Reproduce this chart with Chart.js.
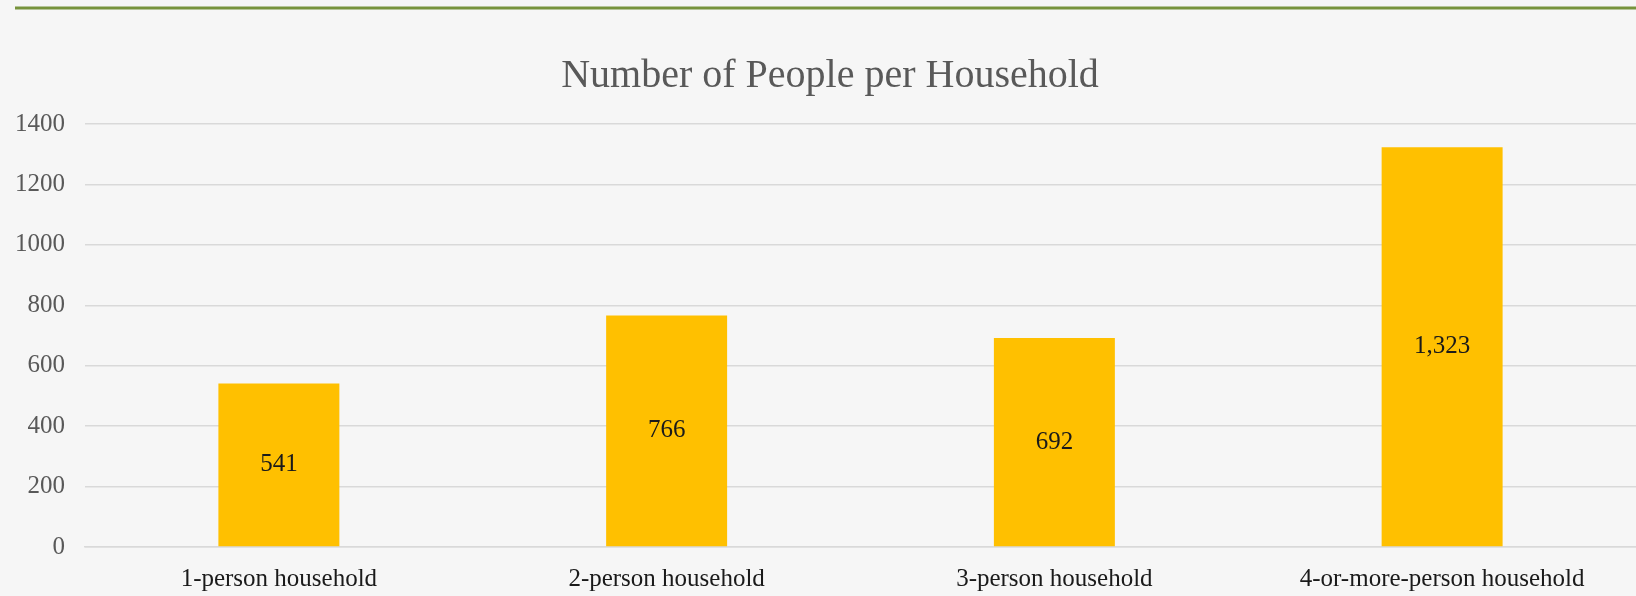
<!DOCTYPE html>
<html>
<head>
<meta charset="utf-8">
<script src="https://cdn.jsdelivr.net/npm/chart.js@4"></script>
<style>
  html, body { margin: 0; padding: 0; background: #f6f6f6; }
  #wrap { width: 1636px; height: 596px; position: relative; }
</style>
</head>
<body>
<div id="wrap"><canvas id="c" width="1636" height="596"></canvas></div>
<script>
const chartTitle = "Number of People per Household";
const categories = ["1-person household", "2-person household", "3-person household", "4-or-more-person household"];
const householdCounts = [541, 766, 692, 1323];
const yTicks = [0, 200, 400, 600, 800, 1000, 1200, 1400];

const SERIF = "'Liberation Serif', 'DejaVu Serif', serif";

const decorPlugin = {
  id: 'decor',
  beforeDraw(chart) {
    const ctx = chart.ctx;
    ctx.save();
    ctx.fillStyle = '#f6f6f6';
    ctx.fillRect(0, 0, chart.width, chart.height);
    ctx.strokeStyle = '#77933c';
    ctx.lineWidth = 3;
    ctx.beginPath();
    ctx.moveTo(15, 8);
    ctx.lineTo(chart.width, 8);
    ctx.stroke();
    ctx.fillStyle = '#595959';
    ctx.font = "40px " + SERIF;
    ctx.textAlign = 'center';
    ctx.textBaseline = 'middle';
    ctx.fillText(chartTitle, 830, 76);
    ctx.restore();
  },
  afterDatasetsDraw(chart) {
    const ctx = chart.ctx;
    const meta = chart.getDatasetMeta(0);
    ctx.save();
    ctx.fillStyle = '#1a1a1a';
    ctx.font = "25px " + SERIF;
    ctx.textAlign = 'center';
    ctx.textBaseline = 'middle';
    meta.data.forEach((bar, i) => {
      const v = chart.data.datasets[0].data[i];
      const y = (bar.y + bar.base) / 2;
      ctx.fillText(v.toLocaleString('en-US'), bar.x, y);
    });
    ctx.restore();
  }
};

new Chart(document.getElementById('c'), {
  type: 'bar',
  data: {
    labels: categories,
    datasets: [{
      data: householdCounts,
      backgroundColor: '#FFC000',
      borderWidth: 0,
      categoryPercentage: 1.0,
      barPercentage: 0.312
    }]
  },
  options: {
    responsive: false,
    animation: false,
    layout: { padding: { top: 124, right: 0, bottom: 0, left: 0 } },
    plugins: {
      legend: { display: false },
      title: { display: false },
      tooltip: { enabled: false }
    },
    scales: {
      x: {
        afterFit(scale) { scale.height = 49; },
        grid: { display: false, drawTicks: false },
        border: { display: true, color: '#d9d9d9', width: 1.5 },
        ticks: {
          color: '#1a1a1a',
          font: { family: SERIF, size: 25 },
          padding: 17,
          maxRotation: 0
        }
      },
      y: {
        min: 0,
        max: 1400,
        afterBuildTicks(scale) { scale.ticks = yTicks.map(v => ({ value: v })); },
        afterFit(scale) { scale.width = 85; },
        grid: { color: '#d9d9d9', lineWidth: 1.5, drawTicks: false },
        border: { display: false },
        ticks: {
          color: '#595959',
          font: { family: SERIF, size: 25 },
          padding: 20,
          callback: v => String(v)
        }
      }
    }
  },
  plugins: [decorPlugin]
});
</script>
</body>
</html>
